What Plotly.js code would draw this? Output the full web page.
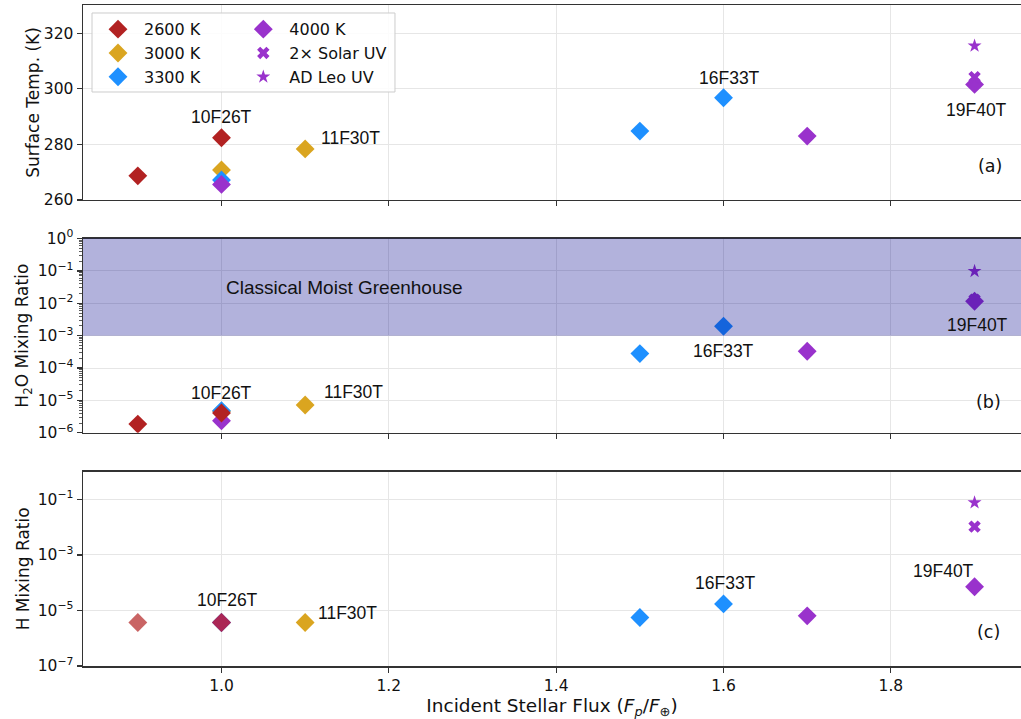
<!DOCTYPE html>
<html>
<head>
<meta charset="utf-8">
<script src="https://cdn.plot.ly/plotly-3.0.1.min.js"></script>
<style>html,body{margin:0;padding:0;background:#fff;}#chart{width:1021px;height:719px;}</style>
</head>
<body>
<div id="chart"></div>
<script>
// ---- data ----
const flux2600 = [0.9, 1.0];
const flux3000 = [1.0, 1.1];
const flux3300 = [1.0, 1.5, 1.6];
const flux4000 = [1.0, 1.7, 1.9];
const fluxUV = [1.9];

// (a) surface temperature (K)
const temp2600 = [268.7, 282.4];
const temp3000 = [270.8, 278.4];
const temp3300 = [267.2, 284.8, 296.8];
const temp4000 = [265.6, 283.0, 301.6];
const tempSolar2x = [304.2];
const tempADLeo = [315.5];

// (b) H2O mixing ratio
const h2o2600 = [1.86e-6, 4.1e-6];
const h2o3000 = [4.6e-6, 7.2e-6];
const h2o3300 = [4.8e-6, 2.8e-4, 1.96e-3];
const h2o4000 = [2.35e-6, 3.3e-4, 1.16e-2];
const h2oSolar2x = [1.3e-2];
const h2oADLeo = [0.098];

// (c) H mixing ratio
const h2600 = [3.7e-6, 3.7e-6];
const h3000 = [3.7e-6, 3.7e-6];
const h3300 = [3.7e-6, 5.6e-6, 1.73e-5];
const h4000 = [3.7e-6, 6.4e-6, 7.2e-5];
const hSolar2x = [1.05e-2];
const hADLeo = [7.7e-2];

const seriesNames = ['2600 K', '3000 K', '3300 K', '4000 K', '2\u00d7 Solar UV', 'AD Leo UV'];
const xTicks = [1.0, 1.2, 1.4, 1.6, 1.8];
const xTickText = ['1.0', '1.2', '1.4', '1.6', '1.8'];

// ---- styles ----
const C = {
  '2600 K': '#b22222', '3000 K': '#daa520', '3300 K': '#1e90ff', '4000 K': '#9932cc',
  '2\u00d7 Solar UV': '#9932cc', 'AD Leo UV': '#9932cc'
};
const SYM = {
  '2600 K': 'diamond', '3000 K': 'diamond', '3300 K': 'diamond', '4000 K': 'diamond',
  '2\u00d7 Solar UV': 'x', 'AD Leo UV': 'star'
};
const SIZE = {
  '2600 K': 14.5, '3000 K': 14.5, '3300 K': 14.5, '4000 K': 14.5,
  '2\u00d7 Solar UV': 11, 'AD Leo UV': 10.5
};
const LEG = {
  '2600 K': 'legend', '3000 K': 'legend', '3300 K': 'legend',
  '4000 K': 'legend2', '2\u00d7 Solar UV': 'legend2', 'AD Leo UV': 'legend2'
};

function tr(name, x, y, xa, ya, showlegend, opacity) {
  return {
    type: 'scatter', mode: 'markers', name: name, x: x, y: y,
    xaxis: xa, yaxis: ya, showlegend: showlegend,
    legend: LEG[name], legendgroup: name,
    marker: { symbol: SYM[name], size: SIZE[name], color: C[name], opacity: opacity || 1, line: { width: 0 } },
    hoverinfo: 'x+y+name'
  };
}

const panelA = [
  [seriesNames[0], flux2600, temp2600], [seriesNames[1], flux3000, temp3000],
  [seriesNames[2], flux3300, temp3300], [seriesNames[3], flux4000, temp4000],
  [seriesNames[4], fluxUV, tempSolar2x], [seriesNames[5], fluxUV, tempADLeo]
];
const panelB = [
  [seriesNames[1], flux3000, h2o3000], [seriesNames[2], flux3300, h2o3300],
  [seriesNames[3], flux4000, h2o4000], [seriesNames[0], flux2600, h2o2600],
  [seriesNames[4], fluxUV, h2oSolar2x], [seriesNames[5], fluxUV, h2oADLeo]
];
const panelC = [
  [seriesNames[1], flux3000, h3000], [seriesNames[2], flux3300, h3300],
  [seriesNames[3], flux4000, h4000], [seriesNames[0], flux2600, h2600],
  [seriesNames[4], fluxUV, hSolar2x], [seriesNames[5], fluxUV, hADLeo]
];

const traces = [];
panelA.forEach(p => traces.push(tr(p[0], p[1], p[2], 'x', 'y', true)));
panelB.forEach(p => traces.push(tr(p[0], p[1], p[2], 'x2', 'y2', false)));
panelC.forEach(p => traces.push(tr(p[0], p[1], p[2], 'x3', 'y3', false, p[0] === '2600 K' ? 0.7 : 1)));

const TICKFONT = { family: 'DejaVu Sans', size: 15.5, color: '#111' };
const TITLEFONT = { family: 'DejaVu Sans', size: 17, color: '#111' };
const LABELFONT = { family: 'Liberation Sans, Arial', size: 17.5, color: '#111' };
const PANELFONT = { family: 'DejaVu Sans', size: 17.5, color: '#111' };
const GRID = '#e6e6e6';
const XRANGE = [0.8345, 1.9555];

function xax(domainAnchor, showLabels) {
  return {
    anchor: domainAnchor, range: XRANGE, showline: true, linecolor: '#333', linewidth: 1.5,
    mirror: true, ticks: 'outside', ticklen: 5, tickwidth: 1.2, tickcolor: '#333',
    tickmode: 'array', tickvals: xTicks, ticktext: xTickText, showticklabels: showLabels,
    showgrid: true, gridcolor: GRID, gridwidth: 1, zeroline: false, tickfont: TICKFONT
  };
}

function powLabel(e) { return '10<sup>' + (e < 0 ? '\u2212' + (-e) : e) + '</sup>'; }

const bMajor = [-6, -5, -4, -3, -2, -1, 0];
const cMajor = [-7, -5, -3, -1];
const bMinor = [];
for (let e = -6; e < 0; e++) for (let m = 2; m <= 9; m++) bMinor.push(m * Math.pow(10, e));

const layout = {
  width: 1021, height: 719,
  margin: { l: 83, r: 0, t: 5, b: 53 },
  paper_bgcolor: '#fff', plot_bgcolor: '#fff',
  font: TICKFONT,
  xaxis: xax('y', false),
  xaxis2: xax('y2', false),
  xaxis3: Object.assign(xax('y3', true), {
    title: { text: 'Incident Stellar Flux (<i>F<sub>p</sub></i>/<i>F</i><sub>\u2295</sub>)', font: { family: 'DejaVu Sans', size: 18.5, color: '#111' }, standoff: 7 }
  }),
  yaxis: {
    domain: [0.705, 1], anchor: 'x', range: [260, 330.2],
    tickmode: 'array', tickvals: [260, 280, 300, 320], ticktext: ['260', '280', '300', '320'],
    showline: true, linecolor: '#333', linewidth: 1.5, ticks: 'outside', ticklen: 5, tickwidth: 1.2, tickcolor: '#333',
    showgrid: true, gridcolor: GRID, zeroline: false, tickfont: TICKFONT,
    title: { text: 'Surface Temp. (K)', font: TITLEFONT, standoff: 0 }
  },
  yaxis2: {
    domain: [0.3528, 0.6467], anchor: 'x2', type: 'log', range: [-6, 0],
    tickmode: 'array', tickvals: bMajor.map(e => Math.pow(10, e)), ticktext: bMajor.map(powLabel),
    minor: { tickmode: 'array', tickvals: bMinor, ticks: 'outside', ticklen: 3, tickwidth: 0.8, tickcolor: '#333', showgrid: false },
    showline: true, linecolor: '#333', linewidth: 1.5, ticks: 'outside', ticklen: 5, tickwidth: 1.2, tickcolor: '#333',
    showgrid: true, gridcolor: GRID, zeroline: false, tickfont: TICKFONT,
    title: { text: 'H<sub>2</sub>O Mixing Ratio', font: TITLEFONT, standoff: 4 }
  },
  yaxis3: {
    domain: [0, 0.2939], anchor: 'x3', type: 'log', range: [-7, 0],
    tickmode: 'array', tickvals: cMajor.map(e => Math.pow(10, e)), ticktext: cMajor.map(powLabel),
    showline: true, linecolor: '#333', linewidth: 1.5, ticks: 'outside', ticklen: 5, tickwidth: 1.2, tickcolor: '#333',
    showgrid: true, gridcolor: GRID, zeroline: false, tickfont: TICKFONT,
    title: { text: 'H Mixing Ratio', font: TITLEFONT, standoff: 3 }
  },
  shapes: [
    { type: 'rect', xref: 'x2 domain', yref: 'y2 domain', x0: 0, x1: 1, y0: 0.5, y1: 1,
      fillcolor: 'rgba(0,0,139,0.3)', line: { width: 0 }, layer: 'above' },
    { type: 'rect', xref: 'paper', yref: 'paper', x0: 0.0096, x1: 0.3326, y0: 0.8684, y1: 0.9879,
      fillcolor: 'rgba(255,255,255,0.85)', line: { color: '#cccccc', width: 1 }, layer: 'above' }
  ],
  annotations: [
    // panel (a)
    { xref: 'x', yref: 'y', x: 1.0, y: 289.9, text: '10F26T', showarrow: false, font: LABELFONT },
    { xref: 'x', yref: 'y', x: 1.1163, y: 282.3, text: '11F30T', showarrow: false, xanchor: 'left', font: LABELFONT },
    { xref: 'x', yref: 'y', x: 1.607, y: 303.9, text: '16F33T', showarrow: false, font: LABELFONT },
    { xref: 'x', yref: 'y', x: 1.9026, y: 292.4, text: '19F40T', showarrow: false, font: LABELFONT },
    { xref: 'x', yref: 'y', x: 1.918, y: 272.2, text: '(a)', showarrow: false, font: PANELFONT },
    // panel (b)
    { xref: 'x2', yref: 'y2', x: 1.003, y: -1.512, text: 'Classical Moist Greenhouse', showarrow: false, xanchor: 'left',
      font: { family: 'Liberation Sans, Arial', size: 19, color: '#111' } },
    { xref: 'x2', yref: 'y2', x: 1.0, y: -4.775, text: '10F26T', showarrow: false, font: LABELFONT },
    { xref: 'x2', yref: 'y2', x: 1.1196, y: -4.744, text: '11F30T', showarrow: false, xanchor: 'left', font: LABELFONT },
    { xref: 'x2', yref: 'y2', x: 1.6, y: -3.469, text: '16F33T', showarrow: false, font: LABELFONT },
    { xref: 'x2', yref: 'y2', x: 1.904, y: -2.676, text: '19F40T', showarrow: false, font: LABELFONT },
    { xref: 'x2', yref: 'y2', x: 1.917, y: -5.06, text: '(b)', showarrow: false, font: PANELFONT },
    // panel (c)
    { xref: 'x3', yref: 'y3', x: 1.007, y: -4.62, text: '10F26T', showarrow: false, font: LABELFONT },
    { xref: 'x3', yref: 'y3', x: 1.1135, y: -5.075, text: '11F30T', showarrow: false, xanchor: 'left', font: LABELFONT },
    { xref: 'x3', yref: 'y3', x: 1.602, y: -4.018, text: '16F33T', showarrow: false, font: LABELFONT },
    { xref: 'x3', yref: 'y3', x: 1.8626, y: -3.575, text: '19F40T', showarrow: false, font: LABELFONT },
    { xref: 'x3', yref: 'y3', x: 1.9165, y: -5.78, text: '(c)', showarrow: false, font: PANELFONT }
  ],
  legend: {
    x: 0.0096, y: 0.989, xanchor: 'left', yanchor: 'top', orientation: 'v',
    bgcolor: 'rgba(0,0,0,0)', borderwidth: 0, tracegroupgap: 0, itemsizing: 'trace', itemwidth: 42,
    font: { family: 'DejaVu Sans', size: 16, color: '#111' }
  },
  legend2: {
    x: 0.1645, y: 0.989, xanchor: 'left', yanchor: 'top', orientation: 'v',
    bgcolor: 'rgba(0,0,0,0)', borderwidth: 0, tracegroupgap: 0, itemsizing: 'trace', itemwidth: 42,
    font: { family: 'DejaVu Sans', size: 16, color: '#111' }
  },
  showlegend: true
};

Plotly.newPlot('chart', traces, layout, { displayModeBar: false, staticPlot: true });
</script>
</body>
</html>
